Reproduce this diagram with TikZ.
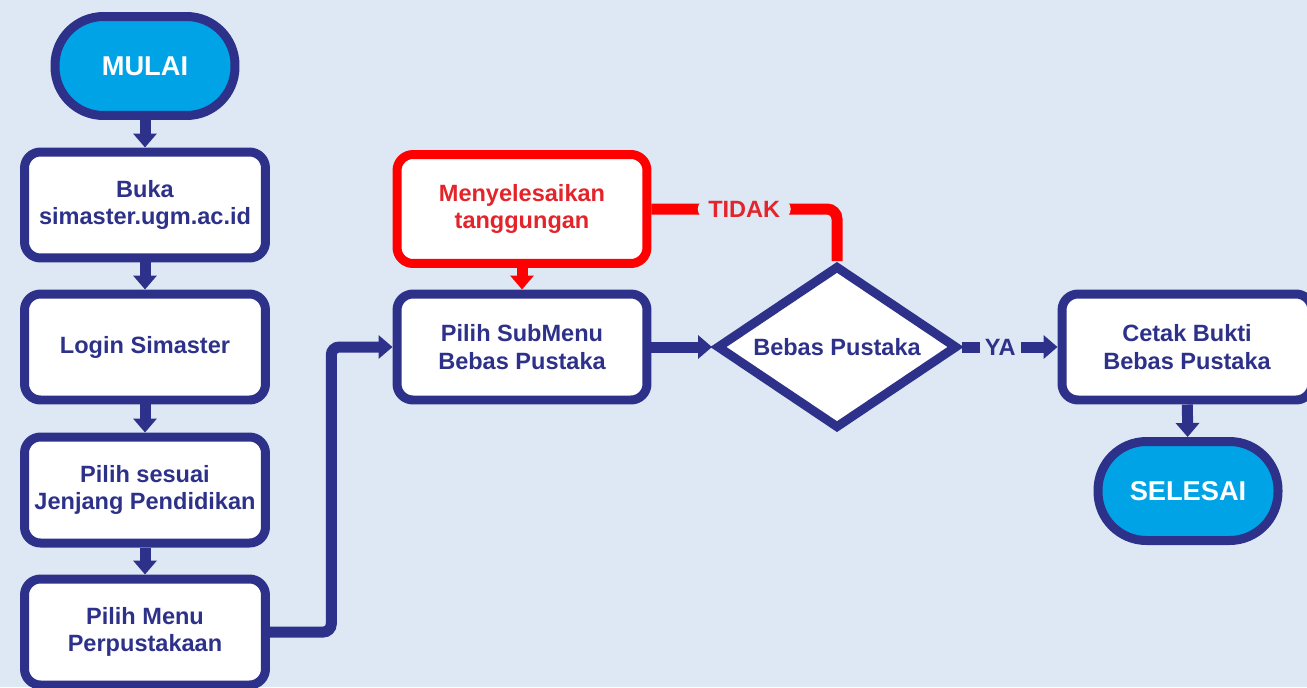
\documentclass[tikz,border=0pt]{standalone}
\usepackage{fontspec}
\setmainfont{Liberation Sans}
\usetikzlibrary{shapes.geometric,arrows.meta,calc}
\definecolor{bgblue}{HTML}{DDE8F4}
\definecolor{navy}{HTML}{2E3189}
\definecolor{skyblue}{HTML}{00A3E6}
\definecolor{alarmred}{HTML}{FF0000}
\definecolor{textred}{HTML}{E4242B}

\begin{document}
\begin{tikzpicture}[x=0.02cm,y=-0.02cm,
    box/.style={draw=navy,fill=white,line width=0.18cm,rounded corners=0.32cm,minimum width=4.82cm,minimum height=2.12cm,align=center,text=navy,font=\bfseries\fontsize{13.4}{15.5}\selectfont},
    terminal/.style={draw=navy,fill=skyblue,line width=0.18cm,rounded corners=0.97cm,minimum width=3.6cm,minimum height=1.98cm,text=white,font=\bfseries\fontsize{15.5}{18}\selectfont},
    decision/.style={diamond,aspect=1.46,draw=navy,fill=white,line width=0.18cm,inner sep=0pt,minimum width=4.82cm,minimum height=3.26cm,text=navy,font=\bfseries\fontsize{13.4}{15.5}\selectfont},
    flow/.style={draw=navy,line width=0.22cm,-{Triangle[length=0.28cm,width=0.46cm]}},
    flowlabel/.style={fill=bgblue,inner xsep=6pt,inner ysep=1pt,text=navy,font=\bfseries\fontsize{13.4}{15.5}\selectfont}]

    \clip (0,0) rectangle (1307,687);
    \fill[bgblue] (0,0) rectangle (1307,687);

    \node[terminal] (mulai) at (145,66) {MULAI};
    \node[box] (buka) at (145,205) {Buka\\simaster.ugm.ac.id};
    \node[box] (login) at (145,347) {Login Simaster};
    \node[box] (jenjang) at (145,490) {Pilih sesuai\\Jenjang Pendidikan};
    \node[box] (menu) at (145,632) {Pilih Menu\\Perpustakaan};

    \node[box,minimum width=5cm,minimum height=2.18cm,draw=alarmred,text=textred] (tanggungan) at (522,209) {Menyelesaikan\\tanggungan};
    \node[box,minimum width=5cm] (submenu) at (522,347) {Pilih SubMenu\\Bebas Pustaka};
    \node[decision] (bebas) at (837,347) {Bebas Pustaka};
    \node[box,minimum width=5cm] (cetak) at (1187,347) {Cetak Bukti\\Bebas Pustaka};
    \node[terminal] (selesai) at (1188,491) {SELESAI};

    \path[flow] (mulai) -- (buka);
    \path[flow] (buka) -- (login);
    \path[flow] (login) -- (jenjang);
    \path[flow] (jenjang) -- (menu);
    \path[flow,rounded corners=0.16cm] (menu.east) -| ($(menu.east)!.5!(submenu.west)$) |- (submenu.west);
    \path[flow,draw=alarmred] (tanggungan) -- (submenu);
    \path[flow] (submenu) -- (bebas);
    \path[flow] (bebas) -- node[pos=.4,flowlabel,inner xsep=3pt] {YA} (cetak);
    \path[draw=alarmred,line width=0.22cm,rounded corners=0.2cm] (bebas.north) |- node[pos=.75,flowlabel,text=textred] {TIDAK} (tanggungan.east);
    \path[flow] (cetak) -- (selesai);

\end{tikzpicture}
\end{document}
